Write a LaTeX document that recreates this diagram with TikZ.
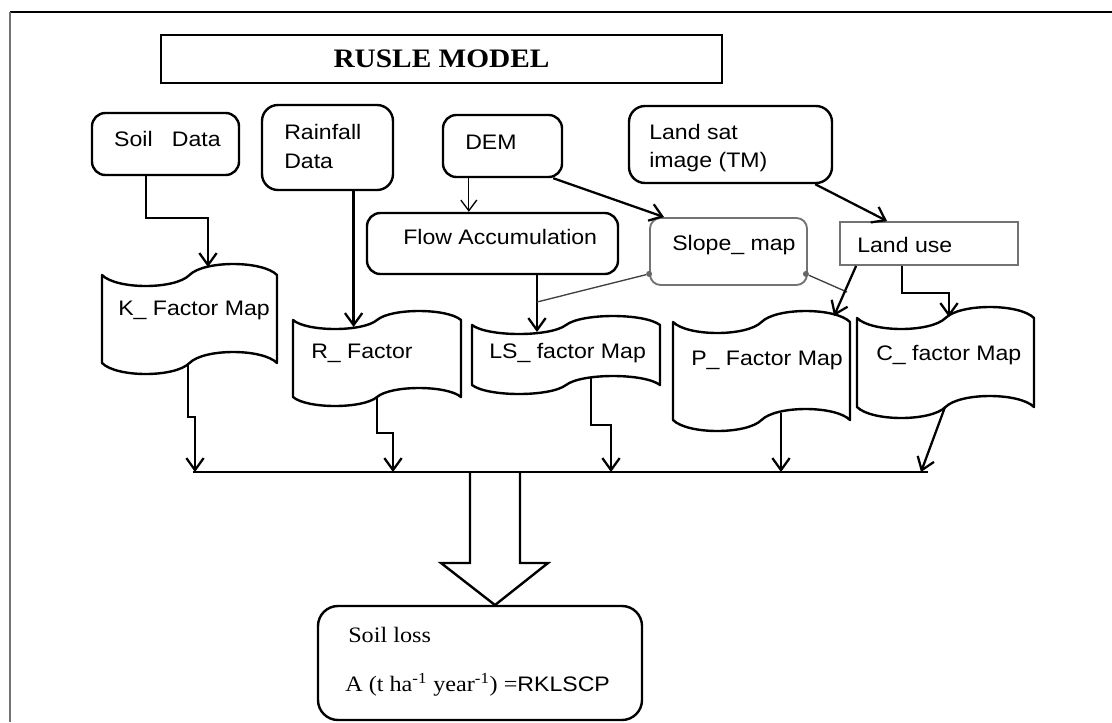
\documentclass[tikz,border=0pt]{standalone}
\usepackage{fontspec}
\setmainfont{Liberation Sans}[FakeStretch=1.1]
\newfontfamily\serifrm{Liberation Serif}[FakeStretch=1.1]
\usetikzlibrary{arrows.meta,fit}

\newcommand\tapeshape[5]{% L T R B a
  \pgfmathsetmacro\tpw{#3-#1}
  \draw[shapeline] (#1,#2)
    .. controls ({#1+\tpw/12},{#2+4*#5/3}) and ({#1+5*\tpw/12},{#2+4*#5/3}) .. ({#1+\tpw/2},#2)
    .. controls ({#1+7*\tpw/12},{#2-4*#5/3}) and ({#1+11*\tpw/12},{#2-4*#5/3}) .. (#3,#2)
    -- (#3,#4)
    .. controls ({#1+11*\tpw/12},{#4-4*#5/3}) and ({#1+7*\tpw/12},{#4-4*#5/3}) .. ({#1+\tpw/2},#4)
    .. controls ({#1+5*\tpw/12},{#4+4*#5/3}) and ({#1+\tpw/12},{#4+4*#5/3}) .. (#1,#4)
    -- cycle;}

\tikzset{
  rbox/.style={draw, line width=1.8pt, rounded corners=10pt, inner sep=0pt},
  gbox/.style={draw=black!55, line width=1.4pt, inner sep=0pt},
  shapeline/.style={line width=1.8pt, line join=round},
  conn/.style={line width=1.7pt, -{Straight Barb[length=9pt,width=13pt]}},
  thinconn/.style={line width=1pt, -{Straight Barb[length=8pt,width=12pt]}},
  thinl/.style={line width=1pt, black!75},
  dot/.style={circle, fill=black!60, inner sep=0pt, minimum size=4.5pt},
  txt/.style={inner sep=0pt, anchor=west, font=\fontsize{15.75}{19}\selectfont},
  stxt/.style={inner sep=0pt, anchor=west, font=\serifrm\fontsize{16.5}{20}\selectfont},
}

\begin{document}
\begin{tikzpicture}[x=0.75pt,y=-0.75pt]
\useasboundingbox (0,0) rectangle (1112,722);

% frame
\draw[line width=1.2pt] (10,12) -- (1112,12);
\draw[line width=1.2pt, black!55] (10,12) -- (10,722);

% title
\node[draw, line width=2pt, inner sep=0pt, fit={(161,35)(722,83)}] (title) {};
\node[inner sep=0pt, font=\serifrm\bfseries\fontsize{20}{22}\selectfont] (titleT) at (title.center) {RUSLE MODEL};

% input boxes
\node[rbox, fit={(92,113)(239,175)}] (soil) {};
\node[inner sep=0pt, font=\fontsize{15.75}{19}\selectfont] (soilT) at (167.5,139) {Soil\ \ \ Data};

\node[rbox, rounded corners=12pt, fit={(262,105)(393,190)}] (rain) {};
\node[txt] (rainT1) at (284,132) {Rainfall};
\node[txt] (rainT2) at (284,161) {Data};

\node[rbox, fit={(443,115)(562,177)}] (dem) {};
\node[txt] (demT) at (465,142) {DEM};

\node[rbox, rounded corners=12pt, fit={(629,106)(832,183)}] (sat) {};
\node[txt] (satT1) at (649,132) {Land sat};
\node[txt] (satT2) at (649,162) {image (TM)};

\node[rbox, fit={(367,213)(618,274)}] (flow) {};
\node[txt] (flowT) at (403,237) {Flow Accumulation};

\node[gbox, rounded corners=8pt, fit={(650,218)(807,285)}] (slope) {};
\node[txt] (slopeT) at (672,245) {Slope\_ map};

\node[gbox, fit={(840,222)(1018,265)}] (landuse) {};
\node[txt] (landuseT) at (857,245) {Land use};

% factor maps (punched tape)
\tapeshape{102}{275}{277}{363}{11}
\node[txt] (K) at (118,310) {K\_ Factor Map};
\tapeshape{293}{320}{461}{397}{9}
\node[txt] (R) at (311,353) {R\_ Factor};
\tapeshape{472}{325}{660}{385}{9}
\node[txt] (LS) at (489,353) {LS\_ factor Map};
\tapeshape{673}{322}{850}{420}{11}
\node[txt] (P) at (691,360) {P\_ Factor Map};
\tapeshape{857}{318}{1034}{407}{11}
\node[txt] (C) at (876,355) {C\_ factor Map};

% connection points on the wavy edges
\coordinate (Ktop) at (208,267);
\coordinate (Kbend) at (208,218);
\coordinate (Rtop) at (353.6,327);
\coordinate (LStop) at (537,332);
\coordinate (Sj) at (537,302);
\coordinate (Pj) at (847,292);
\coordinate (Ptop) at (834,316);
\coordinate (Cbend) at (949,293);
\coordinate (Ctop) at (949,317);

% top connectors
\draw[conn] ([xshift=-14.6pt]soil.south) |- (Kbend) -- (Ktop);
\draw[conn] (rain.south -| Rtop) -- (Rtop);
\draw[thinconn] ([xshift=20.25pt]dem.south west) -- ([xshift=20.25pt]dem.south west |- flow.north);
\draw[conn] ([xshift=-7.5pt]dem.south east) -- ([xshift=11.25pt]slope.north west);
\draw[conn] (flow.south -| LStop) -- (LStop);
\node[dot] (d1) at ([yshift=9pt]slope.south west) {};
\node[dot] (d2) at ([yshift=9pt,xshift=-1.5pt]slope.south east) {};
\draw[thinl] (d1) -- (Sj);
\draw[thinl] (d2) -- (Pj);
\draw[conn] ([xshift=-13.5pt]sat.south east) -- ([xshift=36pt]landuse.north west);
\draw[conn] ([xshift=12.75pt]landuse.south west) -- (Ptop);
\draw[conn] ([xshift=47.25pt]landuse.south west) |- (Cbend) -- (Ctop);

% bus and down arrows
\coordinate (busL) at (193,472);
\coordinate (busR) at (928,472);
\draw[line width=1.2pt] (busL) -- (busR);

\coordinate (Kb) at (188,363);  \coordinate (Kd) at (195,472);
\coordinate (Rb) at (377,397);  \coordinate (Rd) at (393,472);
\coordinate (LSb) at (591,378); \coordinate (LSd) at (611,472);
\coordinate (Pb) at (781,413);  \coordinate (Pd) at (781,472);
\coordinate (Cb) at (945,407);  \coordinate (Cd) at (921,472);
\draw[conn] (Kb) -- ++(0,54) -| (Kd);
\draw[conn] (Rb) -- ++(0,36) -| (Rd);
\draw[conn] (LSb) -- ++(0,47) -| (LSd);
\draw[conn] (Pb) -- (Pd);
\draw[conn] (Cb) -- (Cd);

% big hollow arrow
\draw[line width=1.8pt, line join=miter] (470,472) -- (470,563) -- (441,563) -- (495,605) -- (548,563) -- (520,563) -- (520,472);

% result
\node[rbox, rounded corners=15pt, fit={(318,606)(642,720)}] (loss) {};
\node[stxt] (lossT) at (348,635) {Soil loss};
\node[stxt] (formula) at (345,685) {A (t ha\textsuperscript{-1} year\textsuperscript{-1}) ={\rmfamily\fontsize{15.75}{20}\selectfont RKLSCP}};
\end{tikzpicture}
\end{document}
